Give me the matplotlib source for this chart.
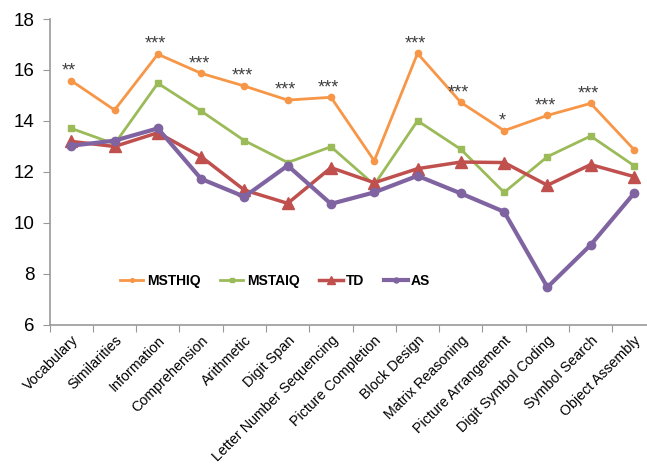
import matplotlib
matplotlib.use("Agg")
import matplotlib.pyplot as plt

plt.rcParams['font.family'] = ['Liberation Sans', 'DejaVu Sans']

subtests = ["Vocabulary", "Similarities", "Information", "Comprehension", "Arithmetic",
            "Digit Span", "Letter Number Sequencing", "Picture Completion", "Block Design",
            "Matrix Reasoning", "Picture Arrangement", "Digit Symbol Coding", "Symbol Search",
            "Object Assembly"]

msthiq = [15.58, 14.43, 16.62, 15.87, 15.37, 14.82, 14.93, 12.44, 16.65, 14.73, 13.62, 14.22, 14.69, 12.88]
mstaiq = [13.71, 13.10, 15.48, 14.39, 13.23, 12.37, 12.99, 11.50, 14.01, 12.89, 11.20, 12.60, 13.41, 12.25]
td     = [13.20, 13.00, 13.54, 12.60, 11.29, 10.77, 12.17, 11.58, 12.13, 12.39, 12.37, 11.48, 12.29, 11.82]
as_grp = [13.03, 13.23, 13.71, 11.73, 11.03, 12.25, 10.75, 11.20, 11.85, 11.16, 10.44, 7.48, 9.14, 11.16]

signif = ["**", "", "***", "***", "***", "***", "***", "", "***", "***", "*", "***", "***", ""]

fig = plt.figure(figsize=(6.47, 4.68), dpi=100)
ax = fig.add_axes([0.0767, 0.3056, 0.9366, 0.6538])

x = list(range(len(subtests)))
ax.plot(x, msthiq, color="#F79646", lw=2, marker="o", ms=4.5, label="MSTHIQ")
ax.plot(x, mstaiq, color="#9BBB59", lw=2, marker="s", ms=5, label="MSTAIQ")
ax.plot(x, td, color="#C0504D", lw=2.5, marker="^", ms=9, label="TD")
ax.plot(x, as_grp, color="#8064A2", lw=3, marker="o", ms=6, label="AS")

for xi, yi, s in zip(x, msthiq, signif):
    if s:
        ax.text(xi - 0.05, yi + 0.05, s, ha="center", va="bottom", fontsize=13,
                color="#404040")

ax.set_xlim(-0.5, len(subtests) - 0.5)
ax.set_ylim(6, 18)
ax.set_yticks([6, 8, 10, 12, 14, 16, 18])
ax.tick_params(axis="y", labelsize=13.5, length=5, color="#999999", pad=6)

ax.set_xticks([i - 0.5 for i in range(len(subtests) + 1)], minor=False)
ax.set_xticklabels([""] * (len(subtests) + 1))
ax.tick_params(axis="x", length=5, color="#999999")
ax.set_xticks(x, minor=True)
ax.set_xticklabels(subtests, minor=True, rotation=45, ha="right", rotation_mode="anchor",
                   fontsize=10.3)
ax.tick_params(axis="x", which="minor", length=0, pad=6)

for side in ("top", "right"):
    ax.spines[side].set_visible(False)
for side in ("left", "bottom"):
    ax.spines[side].set_color("#999999")
    ax.spines[side].set_linewidth(1.2)

leg = ax.legend(loc="center", bbox_to_anchor=(0.372, 0.144), ncol=4, frameon=False,
                prop={"weight": "bold", "size": 10}, handlelength=1.7, columnspacing=1.4,
                handletextpad=0.25, markerscale=0.6)

fig.savefig("out.png", dpi=100)
